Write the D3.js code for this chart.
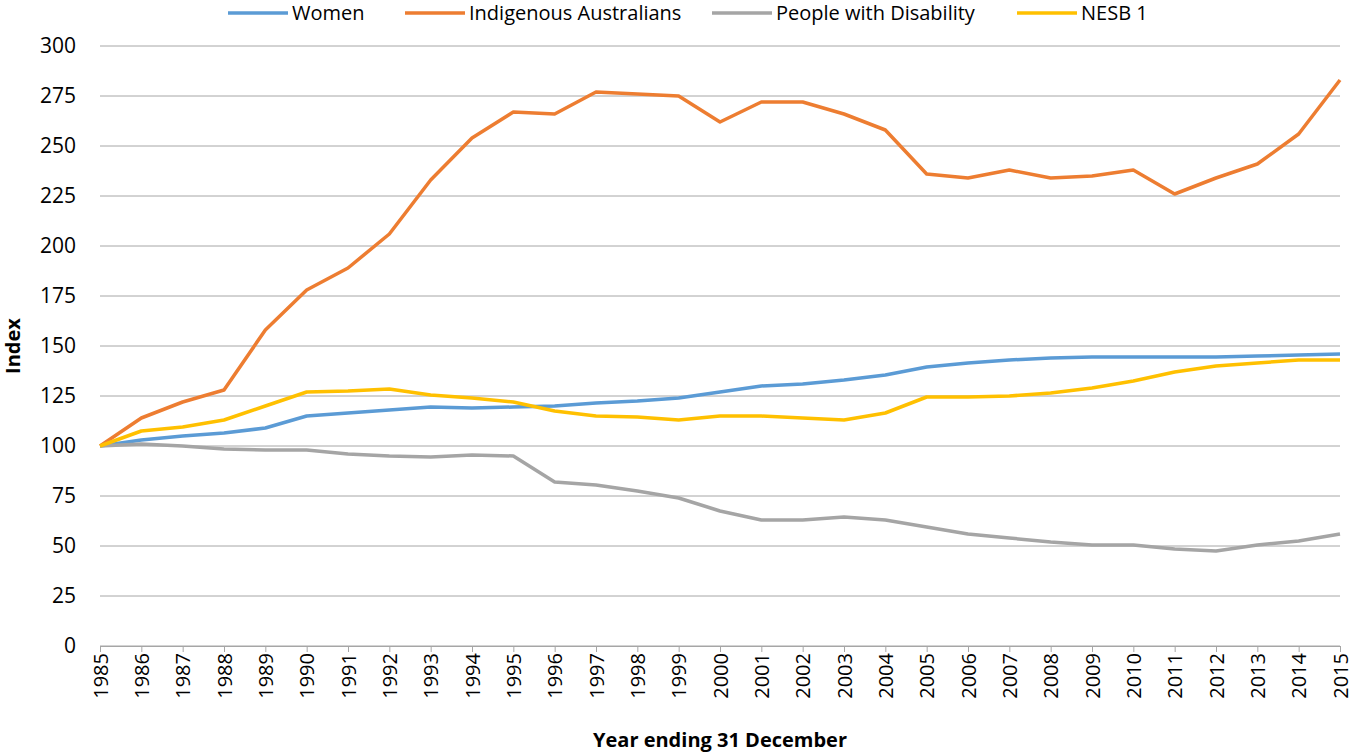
<!DOCTYPE html>
<html><head><meta charset="utf-8">
<script src="https://cdn.jsdelivr.net/npm/d3@7.9.0/dist/d3.min.js"></script>
<style>body{margin:0;background:#fff;font-family:"Open Sans","Liberation Sans",sans-serif}</style>
</head><body><svg id="chart" width="1351" height="754"></svg>
<script>
// data
const years = d3.range(1985, 2016);
const women = [100,103,105,106.5,109,115,116.5,118,119.5,119,119.5,120,121.5,122.5,124,127,130,131,133,135.5,139.5,141.5,143,144,144.5,144.5,144.5,144.5,145,145.5,146];
const indigenous = [100,114,122,128,158,178,189,206,233,254,267,266,277,276,275,262,272,272,266,258,236,234,238,234,235,238,226,234,241,256,283];
const disability = [100,101,100,98.5,98,98,96,95,94.5,95.5,95,82,80.5,77.5,74,67.5,63,63,64.5,63,59.5,56,54,52,50.5,50.5,48.5,47.5,50.5,52.5,56];
const nesb = [100,107.5,109.5,113,120,127,127.5,128.5,125.5,124,122,117.5,115,114.5,113,115,115,114,113,116.5,124.5,124.5,125,126.5,129,132.5,137,140,141.5,143,143];
const yTicks = d3.range(0, 301, 25);

const series = [
  { name: "Women", values: women, color: "#5B9BD5" },
  { name: "Indigenous Australians", values: indigenous, color: "#ED7D31" },
  { name: "People with Disability", values: disability, color: "#A5A5A5" },
  { name: "NESB 1", values: nesb, color: "#FFC000" },
];

const svg = d3.select("#chart");
const x = d3.scaleLinear().domain([1985, 2015]).range([100, 1340]);
const y = d3.scaleLinear().domain([0, 300]).range([646, 46]);

// gridlines
svg.append("g").selectAll("line").data(yTicks).join("line")
  .attr("x1", 100).attr("x2", 1340)
  .attr("y1", d => y(d)).attr("y2", d => y(d))
  .attr("stroke", "#a6a6a6").attr("stroke-width", 1);

// y axis labels
svg.append("g").attr("transform", "translate(100,0)")
  .call(d3.axisLeft(y).tickValues(yTicks).tickSize(0).tickPadding(24))
  .call(g => g.select(".domain").remove())
  .selectAll("text").attr("font-size", 21).attr("fill", "#000")
  .attr("font-family", "Open Sans, Liberation Sans, sans-serif");

// x axis
svg.append("g").attr("transform", "translate(0,646)")
  .call(d3.axisBottom(x).tickValues(years).tickFormat(d3.format("d")).tickSize(6))
  .call(g => g.select(".domain").attr("stroke", "#a6a6a6"))
  .call(g => g.selectAll(".tick line").attr("stroke", "#a6a6a6"))
  .selectAll("text").attr("font-size", 20).attr("fill", "#000")
  .attr("font-family", "Open Sans, Liberation Sans, sans-serif")
  .attr("transform", "rotate(-90)").attr("text-anchor", "end")
  .attr("x", -7).attr("y", 0).attr("dy", "0.35em");

// lines
const line = d3.line().x((d, i) => x(years[i])).y(d => y(d));
svg.append("g").selectAll("path").data(series).join("path")
  .attr("d", d => line(d.values)).attr("fill", "none")
  .attr("stroke", d => d.color).attr("stroke-width", 3.5)
  .attr("stroke-linejoin", "round");

// axis titles
svg.append("text").attr("x", 720).attr("y", 747).attr("text-anchor", "middle")
  .attr("font-size", 20).attr("font-weight", "bold").text("Year ending 31 December");
svg.append("text").attr("transform", "translate(20,346) rotate(-90)").attr("text-anchor", "middle")
  .attr("font-size", 20).attr("font-weight", "bold").text("Index");

// legend
const legendX = [228, 405, 712, 1017];
const lg = svg.append("g").selectAll("g").data(series).join("g")
  .attr("transform", (d, i) => `translate(${legendX[i]},13)`);
lg.append("line").attr("x1", 0).attr("x2", 60).attr("stroke", d => d.color).attr("stroke-width", 3.5);
lg.append("text").attr("x", 64).attr("dy", "0.35em").attr("font-size", 20).text(d => d.name);
</script></body></html>
